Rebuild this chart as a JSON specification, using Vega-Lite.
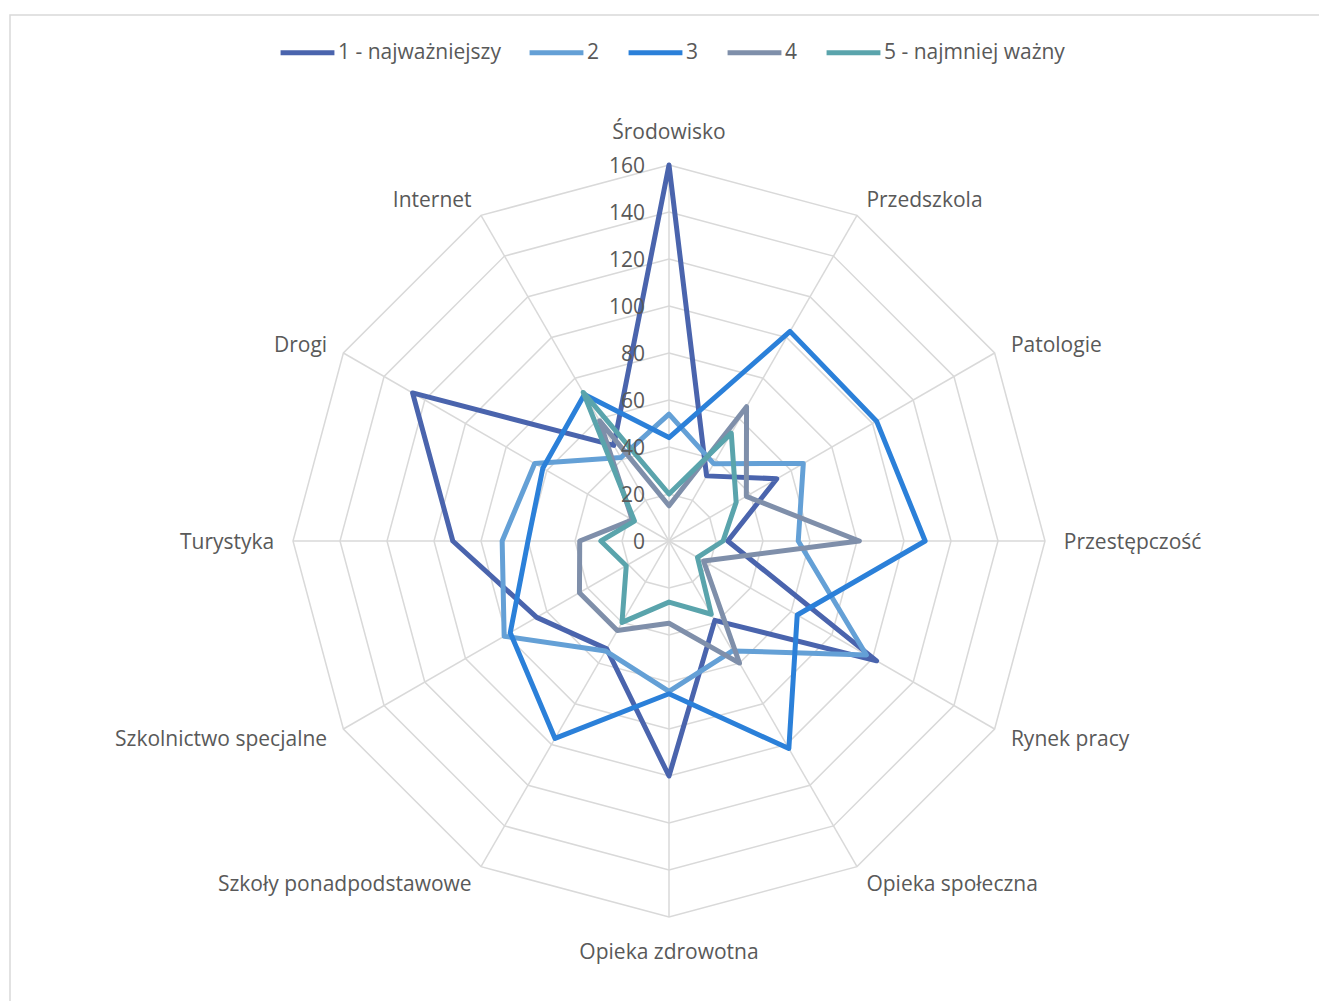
{
  "$schema": "https://vega.github.io/schema/vega-lite/v6.json",
  "width": 1320,
  "height": 1000,
  "autosize": "none",
  "padding": {"left": 10, "top": 15, "right": 0, "bottom": 0},
  "background": "white",
  "config": {
    "view": {"stroke": "#D9D9D9", "strokeWidth": 1.5},
    "font": "Open Sans",
    "text": {"font": "Open Sans", "fontSize": 21, "color": "#595959", "dy": 2}
  },
  "datasets": {
    "dane": [
      {"seria": "1 - najważniejszy", "kategoria": "Środowisko", "wartosc": 160},
      {"seria": "1 - najważniejszy", "kategoria": "Przedszkola", "wartosc": 32},
      {"seria": "1 - najważniejszy", "kategoria": "Patologie", "wartosc": 53},
      {"seria": "1 - najważniejszy", "kategoria": "Przestępczość", "wartosc": 25},
      {"seria": "1 - najważniejszy", "kategoria": "Rynek pracy", "wartosc": 102},
      {"seria": "1 - najważniejszy", "kategoria": "Opieka społeczna", "wartosc": 39},
      {"seria": "1 - najważniejszy", "kategoria": "Opieka zdrowotna", "wartosc": 100},
      {"seria": "1 - najważniejszy", "kategoria": "Szkoły ponadpodstawowe", "wartosc": 53},
      {"seria": "1 - najważniejszy", "kategoria": "Szkolnictwo specjalne", "wartosc": 65},
      {"seria": "1 - najważniejszy", "kategoria": "Turystyka", "wartosc": 92},
      {"seria": "1 - najważniejszy", "kategoria": "Drogi", "wartosc": 126},
      {"seria": "1 - najważniejszy", "kategoria": "Internet", "wartosc": 47},
      {"seria": "2", "kategoria": "Środowisko", "wartosc": 54},
      {"seria": "2", "kategoria": "Przedszkola", "wartosc": 38},
      {"seria": "2", "kategoria": "Patologie", "wartosc": 66},
      {"seria": "2", "kategoria": "Przestępczość", "wartosc": 55},
      {"seria": "2", "kategoria": "Rynek pracy", "wartosc": 97},
      {"seria": "2", "kategoria": "Opieka społeczna", "wartosc": 54},
      {"seria": "2", "kategoria": "Opieka zdrowotna", "wartosc": 64},
      {"seria": "2", "kategoria": "Szkoły ponadpodstawowe", "wartosc": 54},
      {"seria": "2", "kategoria": "Szkolnictwo specjalne", "wartosc": 81},
      {"seria": "2", "kategoria": "Turystyka", "wartosc": 71},
      {"seria": "2", "kategoria": "Drogi", "wartosc": 66},
      {"seria": "2", "kategoria": "Internet", "wartosc": 41},
      {"seria": "3", "kategoria": "Środowisko", "wartosc": 44},
      {"seria": "3", "kategoria": "Przedszkola", "wartosc": 103},
      {"seria": "3", "kategoria": "Patologie", "wartosc": 102},
      {"seria": "3", "kategoria": "Przestępczość", "wartosc": 109},
      {"seria": "3", "kategoria": "Rynek pracy", "wartosc": 63},
      {"seria": "3", "kategoria": "Opieka społeczna", "wartosc": 102},
      {"seria": "3", "kategoria": "Opieka zdrowotna", "wartosc": 65},
      {"seria": "3", "kategoria": "Szkoły ponadpodstawowe", "wartosc": 97},
      {"seria": "3", "kategoria": "Szkolnictwo specjalne", "wartosc": 78},
      {"seria": "3", "kategoria": "Turystyka", "wartosc": 60},
      {"seria": "3", "kategoria": "Drogi", "wartosc": 62},
      {"seria": "3", "kategoria": "Internet", "wartosc": 72},
      {"seria": "4", "kategoria": "Środowisko", "wartosc": 15},
      {"seria": "4", "kategoria": "Przedszkola", "wartosc": 66},
      {"seria": "4", "kategoria": "Patologie", "wartosc": 38},
      {"seria": "4", "kategoria": "Przestępczość", "wartosc": 81},
      {"seria": "4", "kategoria": "Rynek pracy", "wartosc": 17},
      {"seria": "4", "kategoria": "Opieka społeczna", "wartosc": 60},
      {"seria": "4", "kategoria": "Opieka zdrowotna", "wartosc": 35},
      {"seria": "4", "kategoria": "Szkoły ponadpodstawowe", "wartosc": 44},
      {"seria": "4", "kategoria": "Szkolnictwo specjalne", "wartosc": 44},
      {"seria": "4", "kategoria": "Turystyka", "wartosc": 38},
      {"seria": "4", "kategoria": "Drogi", "wartosc": 18},
      {"seria": "4", "kategoria": "Internet", "wartosc": 59},
      {"seria": "5 - najmniej ważny", "kategoria": "Środowisko", "wartosc": 20},
      {"seria": "5 - najmniej ważny", "kategoria": "Przedszkola", "wartosc": 53},
      {"seria": "5 - najmniej ważny", "kategoria": "Patologie", "wartosc": 33},
      {"seria": "5 - najmniej ważny", "kategoria": "Przestępczość", "wartosc": 23},
      {"seria": "5 - najmniej ważny", "kategoria": "Rynek pracy", "wartosc": 14},
      {"seria": "5 - najmniej ważny", "kategoria": "Opieka społeczna", "wartosc": 36},
      {"seria": "5 - najmniej ważny", "kategoria": "Opieka zdrowotna", "wartosc": 26},
      {"seria": "5 - najmniej ważny", "kategoria": "Szkoły ponadpodstawowe", "wartosc": 40},
      {"seria": "5 - najmniej ważny", "kategoria": "Szkolnictwo specjalne", "wartosc": 21},
      {"seria": "5 - najmniej ważny", "kategoria": "Turystyka", "wartosc": 29},
      {"seria": "5 - najmniej ważny", "kategoria": "Drogi", "wartosc": 17},
      {"seria": "5 - najmniej ważny", "kategoria": "Internet", "wartosc": 73}
    ],
    "poziomy": [
      {"poziom": 0}, {"poziom": 20}, {"poziom": 40}, {"poziom": 60}, {"poziom": 80},
      {"poziom": 100}, {"poziom": 120}, {"poziom": 140}, {"poziom": 160}
    ],
    "kategorie": [
      {"kategoria": "Środowisko", "nr": 0}, {"kategoria": "Przedszkola", "nr": 1}, {"kategoria": "Patologie", "nr": 2},
      {"kategoria": "Przestępczość", "nr": 3}, {"kategoria": "Rynek pracy", "nr": 4}, {"kategoria": "Opieka społeczna", "nr": 5},
      {"kategoria": "Opieka zdrowotna", "nr": 6}, {"kategoria": "Szkoły ponadpodstawowe", "nr": 7}, {"kategoria": "Szkolnictwo specjalne", "nr": 8},
      {"kategoria": "Turystyka", "nr": 9}, {"kategoria": "Drogi", "nr": 10}, {"kategoria": "Internet", "nr": 11}
    ]
  },
  "layer": [
    {
      "data": {"name": "poziomy"},
      "transform": [
        {"filter": "datum.poziom > 0"},
        {"calculate": "[0,1,2,3,4,5,6,7,8,9,10,11]", "as": "idx"},
        {"flatten": ["idx"]},
        {"calculate": "datum.poziom * sin(datum.idx * PI / 6)", "as": "px"},
        {"calculate": "datum.poziom * cos(datum.idx * PI / 6)", "as": "py"}
      ],
      "mark": {"type": "line", "interpolate": "linear-closed", "stroke": "#D9D9D9", "strokeWidth": 1.5},
      "encoding": {
        "x": {"field": "px", "type": "quantitative", "axis": null, "scale": {"domain": [-280.43, 281.28], "nice": false, "zero": false}},
        "y": {"field": "py", "type": "quantitative", "axis": null, "scale": {"domain": [-201.70, 223.83], "nice": false, "zero": false}},
        "detail": {"field": "poziom", "type": "nominal"},
        "order": {"field": "idx", "type": "quantitative"}
      }
    },
    {
      "data": {"name": "kategorie"},
      "transform": [
        {"calculate": "160 * sin(datum.nr * PI / 6)", "as": "px"},
        {"calculate": "160 * cos(datum.nr * PI / 6)", "as": "py"},
        {"calculate": "0", "as": "p0"}
      ],
      "mark": {"type": "rule", "stroke": "#D9D9D9", "strokeWidth": 1.5},
      "encoding": {
        "x": {"field": "px", "type": "quantitative", "axis": null, "scale": {"domain": [-280.43, 281.28], "nice": false, "zero": false}},
        "y": {"field": "py", "type": "quantitative", "axis": null, "scale": {"domain": [-201.70, 223.83], "nice": false, "zero": false}},
        "x2": {"field": "p0"},
        "y2": {"field": "p0"}
      }
    },
    {
      "data": {"name": "dane"},
      "transform": [
        {"lookup": "kategoria", "from": {"data": {"name": "kategorie"}, "key": "kategoria", "fields": ["nr"]}},
        {"calculate": "datum.wartosc * sin(datum.nr * PI / 6)", "as": "px"},
        {"calculate": "datum.wartosc * cos(datum.nr * PI / 6)", "as": "py"}
      ],
      "mark": {"type": "line", "interpolate": "linear-closed", "strokeWidth": 5, "strokeJoin": "round"},
      "encoding": {
        "x": {"field": "px", "type": "quantitative", "axis": null, "scale": {"domain": [-280.43, 281.28], "nice": false, "zero": false}},
        "y": {"field": "py", "type": "quantitative", "axis": null, "scale": {"domain": [-201.70, 223.83], "nice": false, "zero": false}},
        "order": {"field": "nr", "type": "quantitative"},
        "color": {
          "field": "seria", "type": "nominal",
          "scale": {
            "domain": ["1 - najważniejszy", "2", "3", "4", "5 - najmniej ważny"],
            "range": ["#4A64AD", "#64A0D6", "#2B80D9", "#7F8FAA", "#5AA4AC"]
          },
          "legend": {
            "title": null,
            "orient": "none",
            "legendX": 268,
            "legendY": 8,
            "direction": "horizontal",
            "symbolType": "stroke",
            "symbolSize": 2900,
            "symbolStrokeWidth": 5,
            "labelFontSize": 21,
            "labelFont": "Open Sans",
            "labelColor": "#595959",
            "labelOffset": 1,
            "columnPadding": 18,
            "labelLimit": 400
          }
        }
      }
    },
    {
      "data": {"name": "poziomy"},
      "transform": [{"calculate": "0", "as": "p0"}],
      "mark": {"type": "text", "align": "right", "baseline": "middle", "dx": -24},
      "encoding": {
        "x": {"field": "p0", "type": "quantitative", "axis": null, "scale": {"domain": [-280.43, 281.28], "nice": false, "zero": false}},
        "y": {"field": "poziom", "type": "quantitative", "axis": null, "scale": {"domain": [-201.70, 223.83], "nice": false, "zero": false}},
        "text": {"field": "poziom", "type": "quantitative"}
      }
    },
    {
      "data": {"name": "kategorie"},
      "transform": [
        {"filter": "datum.nr == 0 || datum.nr == 6"},
        {"calculate": "174.5 * sin(datum.nr * PI / 6)", "as": "px"},
        {"calculate": "174.5 * cos(datum.nr * PI / 6)", "as": "py"}
      ],
      "mark": {"type": "text", "align": "center", "baseline": "middle"},
      "encoding": {
        "x": {"field": "px", "type": "quantitative", "axis": null, "scale": {"domain": [-280.43, 281.28], "nice": false, "zero": false}},
        "y": {"field": "py", "type": "quantitative", "axis": null, "scale": {"domain": [-201.70, 223.83], "nice": false, "zero": false}},
        "text": {"field": "kategoria", "type": "nominal"}
      }
    },
    {
      "data": {"name": "kategorie"},
      "transform": [
        {"filter": "datum.nr > 0 && datum.nr < 6"},
        {"calculate": "168 * sin(datum.nr * PI / 6)", "as": "px"},
        {"calculate": "168 * cos(datum.nr * PI / 6)", "as": "py"}
      ],
      "mark": {"type": "text", "align": "left", "baseline": "middle"},
      "encoding": {
        "x": {"field": "px", "type": "quantitative", "axis": null, "scale": {"domain": [-280.43, 281.28], "nice": false, "zero": false}},
        "y": {"field": "py", "type": "quantitative", "axis": null, "scale": {"domain": [-201.70, 223.83], "nice": false, "zero": false}},
        "text": {"field": "kategoria", "type": "nominal"}
      }
    },
    {
      "data": {"name": "kategorie"},
      "transform": [
        {"filter": "datum.nr > 6"},
        {"calculate": "168 * sin(datum.nr * PI / 6)", "as": "px"},
        {"calculate": "168 * cos(datum.nr * PI / 6)", "as": "py"}
      ],
      "mark": {"type": "text", "align": "right", "baseline": "middle"},
      "encoding": {
        "x": {"field": "px", "type": "quantitative", "axis": null, "scale": {"domain": [-280.43, 281.28], "nice": false, "zero": false}},
        "y": {"field": "py", "type": "quantitative", "axis": null, "scale": {"domain": [-201.70, 223.83], "nice": false, "zero": false}},
        "text": {"field": "kategoria", "type": "nominal"}
      }
    }
  ]
}
